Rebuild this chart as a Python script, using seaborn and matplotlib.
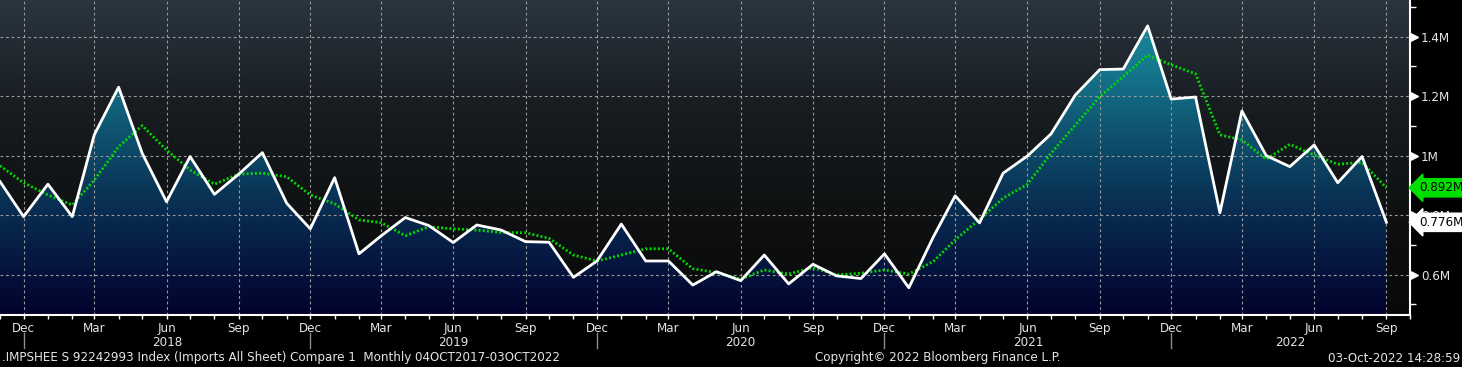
import matplotlib
matplotlib.use('Agg')
import matplotlib.pyplot as plt
import matplotlib.dates as mdates
import matplotlib.transforms as mtransforms
from matplotlib.colors import LinearSegmentedColormap
from matplotlib.ticker import FixedLocator
import numpy as np
import pandas as pd
import seaborn as sns

# monthly imports (millions), Nov 2017 - Sep 2022
months = pd.date_range('2017-11-01', '2022-09-01', freq='MS')
imports = [0.913, 0.795, 0.904, 0.795, 1.070, 1.230, 1.008, 0.845, 0.997, 0.870, 0.938, 1.010, 0.840, 0.754,
           0.926, 0.670, 0.730, 0.792, 0.765, 0.708, 0.767, 0.750, 0.711, 0.709, 0.591, 0.646,
           0.770, 0.646, 0.646, 0.565, 0.610, 0.580, 0.666, 0.569, 0.635, 0.596, 0.587, 0.670,
           0.556, 0.726, 0.865, 0.774, 0.941, 0.999, 1.073, 1.204, 1.289, 1.291, 1.436, 1.190,
           1.197, 0.808, 1.150, 1.000, 0.963, 1.036, 0.909, 0.997, 0.776]
avg = [0.966, 0.909, 0.868, 0.834, 0.918, 1.030, 1.101, 1.019, 0.952, 0.904, 0.938, 0.941, 0.929, 0.868,
       0.838, 0.784, 0.775, 0.731, 0.761, 0.754, 0.750, 0.742, 0.741, 0.722, 0.666, 0.646,
       0.666, 0.687, 0.687, 0.620, 0.607, 0.585, 0.616, 0.602, 0.624, 0.599, 0.605, 0.616,
       0.602, 0.644, 0.717, 0.786, 0.857, 0.904, 1.008, 1.103, 1.198, 1.266, 1.338, 1.305,
       1.275, 1.070, 1.053, 0.988, 1.038, 1.002, 0.971, 0.977, 0.892]
y_ticks = [0.6, 0.8, 1.0, 1.2, 1.4]
y_labels = ['0.6M', '0.8M', '1M', '1.2M', '1.4M']
y_minor = [0.5, 0.7, 0.9, 1.1, 1.3, 1.5]
years = [2018, 2019, 2020, 2021, 2022]

footer_left = '.IMPSHEE S 92242993 Index (Imports All Sheet) Compare 1  Monthly 04OCT2017-03OCT2022'
footer_mid = 'Copyright\u00a9 2022 Bloomberg Finance L.P.'
footer_right = '03-Oct-2022 14:28:59'

# narrow terminal-like look
plt.rcParams['font.family'] = ['DejaVu Sans']
plt.rcParams['font.stretch'] = 'condensed'
txt = '#e4e4e4'
fs = 9.5

fig = plt.figure(figsize=(14.62, 3.67), dpi=100, facecolor='black')
ax = fig.add_axes([0, 52 / 367, 1410 / 1462, 315 / 367])

x0 = mdates.date2num(pd.Timestamp('2017-11-01'))
x1 = mdates.date2num(pd.Timestamp('2022-10-01'))
y0, y1 = 0.4645, 1.523

# background gradient
bg_cmap = LinearSegmentedColormap.from_list('bg', ['#090909', '#0f1112', '#181d21', '#2a3540'])
ax.imshow(np.linspace(0, 1, 256).reshape(-1, 1), cmap=bg_cmap, aspect='auto', origin='lower',
          extent=[x0, x1, y0, y1], zorder=0.1)

# gradient area under the white line
fill_cmap = LinearSegmentedColormap.from_list('fill', ['#02022c', '#061b44', '#0a3658', '#0f5672', '#157a8f', '#1a8aa0'])
poly = ax.fill_between(months, imports, y0 - 1, color='none', lw=0)
grad = ax.imshow(np.linspace(0, 1, 256).reshape(-1, 1), cmap=fill_cmap, aspect='auto', origin='lower',
                 extent=[x0, x1, y0, y1], zorder=0.2)
grad.set_clip_path(poly.get_paths()[0], transform=ax.transData)

sns.lineplot(x=months, y=avg, color='#00dc00', linewidth=2, linestyle=(0, (0.7, 0.8)), ax=ax, zorder=3)
sns.lineplot(x=months, y=imports, color='white', linewidth=2, ax=ax, zorder=4)

ax.set_xlim(x0, x1)
ax.set_ylim(y0, y1)
ax.set_xlabel('')
ax.set_ylabel('')
ax.set_facecolor('#0a0a0a')

# axes / spines
for s in ['left', 'top']:
    ax.spines[s].set_visible(False)
for s in ['right', 'bottom']:
    ax.spines[s].set_color('white')
    ax.spines[s].set_linewidth(1.5)

ax.xaxis.set_major_locator(mdates.MonthLocator(bymonth=[3, 6, 9, 12]))
ax.xaxis.set_major_formatter(mdates.DateFormatter('%b'))
ax.xaxis.set_minor_locator(mdates.MonthLocator())
ax.tick_params(axis='x', which='both', colors='white', length=3, width=1, direction='out',
               labelcolor=txt, labelsize=fs, pad=2)

ax.yaxis.tick_right()
ax.set_yticks(y_ticks)
ax.set_yticklabels(y_labels)
ax.yaxis.set_minor_locator(FixedLocator(y_minor))
ax.tick_params(axis='y', which='major', length=0, pad=8, labelcolor=txt, labelsize=fs)
ax.tick_params(axis='y', which='minor', length=4, width=1, colors='white', direction='out')

ax.set_axisbelow(True)
ax.grid(which='major', color='#9a9a9a', linestyle=(0, (2.5, 2.5)), linewidth=0.8)

# arrow-shaped major ticks on the right axis
arrow_tr = mtransforms.offset_copy(ax.get_yaxis_transform(), fig=fig, x=4, y=0, units='dots')
ax.plot([1.0] * len(y_ticks), y_ticks, linestyle='none', marker='>', ms=6, color='white',
        transform=arrow_tr, clip_on=False, zorder=5)

# year labels and separators
sep_tr = ax.get_xaxis_transform()
for yr in years:
    left = mdates.date2num(pd.Timestamp(f'{yr - 1}-12-01'))
    right = min(mdates.date2num(pd.Timestamp(f'{yr}-12-01')), x1)
    ax.text((left + right) / 2, -27 / 315, str(yr), transform=sep_tr, ha='center', va='center',
            color=txt, fontsize=fs, clip_on=False)
    ax.plot([left, left], [-18 / 315, -33 / 315], color='#8c8c8c', lw=1, transform=sep_tr, clip_on=False)

# last value tags
tag_tr = mtransforms.offset_copy(ax.get_yaxis_transform(), fig=fig, x=9, y=0, units='dots')
for val, col in [(avg[-1], '#00e000'), (imports[-1], 'white')]:
    ax.text(1.0, val, f'{val:.3f}M', transform=tag_tr, ha='left', va='center', fontsize=9.5,
            color='black', clip_on=False, zorder=6,
            bbox=dict(boxstyle='larrow,pad=0.2', fc=col, ec=col))

# footer
fy = 1 - 358 / 367
fig.text(2 / 1462, fy, footer_left, ha='left', va='center', color=txt, fontsize=fs)
fig.text(938 / 1462, fy, footer_mid, ha='center', va='center', color=txt, fontsize=fs)
fig.text(1460 / 1462, fy, footer_right, ha='right', va='center', color=txt, fontsize=fs)

fig.savefig('out.png', dpi=100, facecolor='black')
